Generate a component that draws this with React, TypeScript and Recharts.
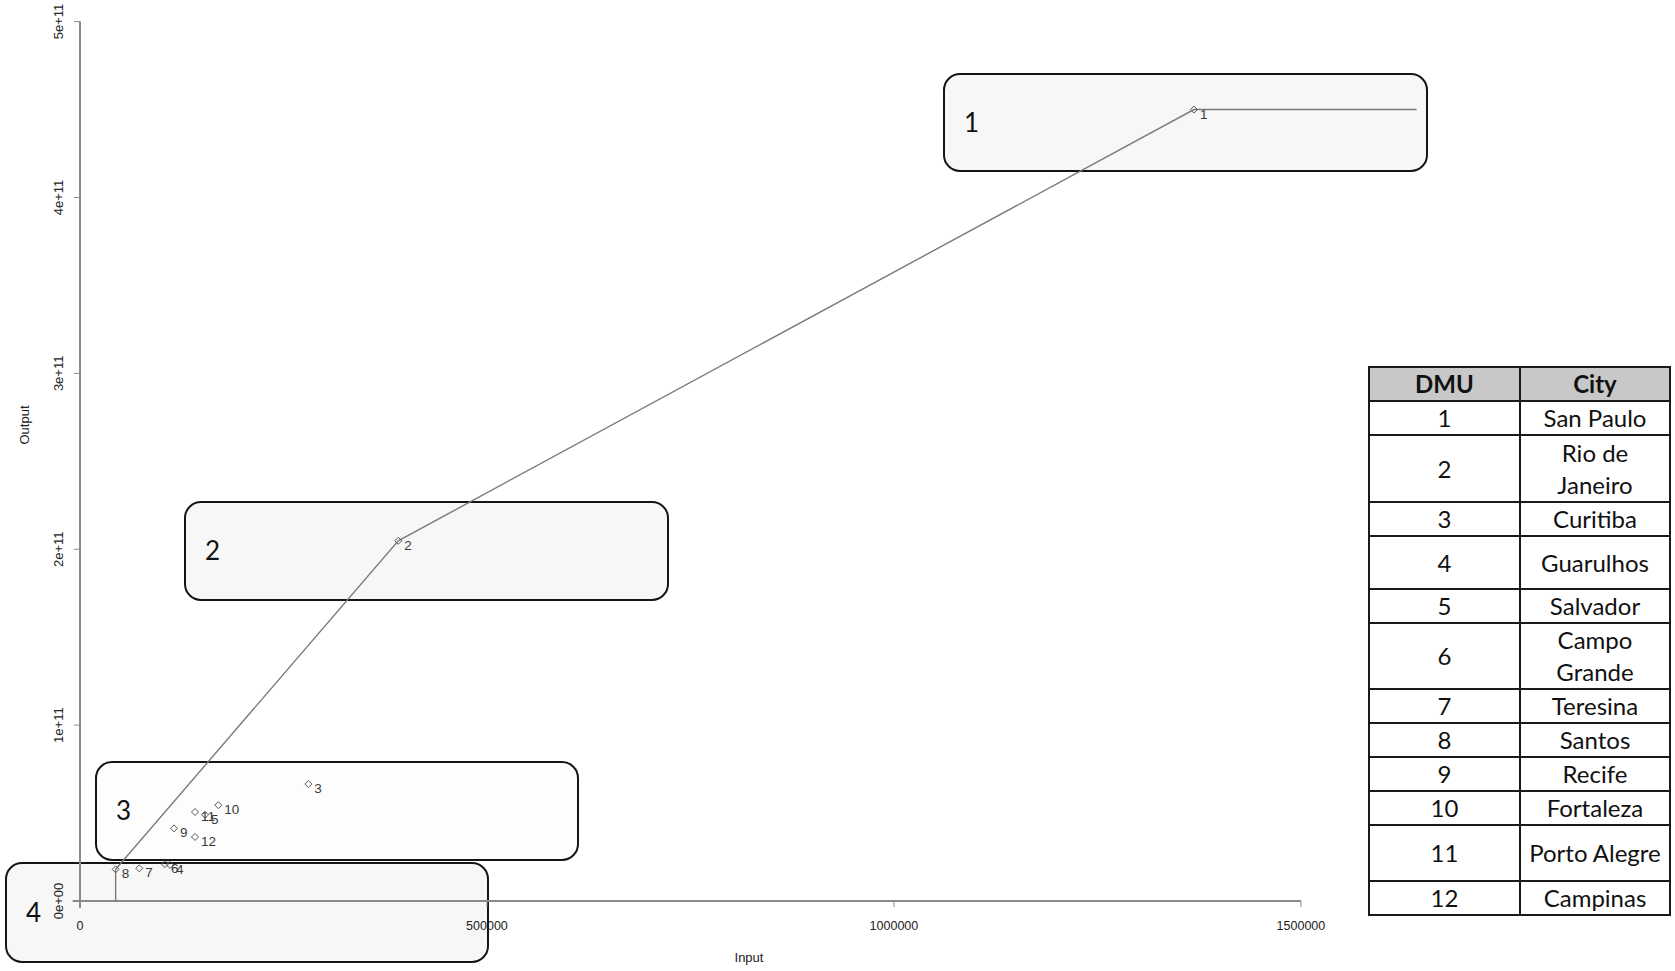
import { ScatterChart, Scatter, XAxis, YAxis, ReferenceLine } from "recharts";

// DMU efficiency data (input vs output)
const DMU_IDS = [1, 2, 3, 4, 5, 6, 7, 8, 9, 10, 11, 12];
const INPUTS = [1368500, 391000, 280500, 110600, 153600, 104400, 72900, 43800, 115500, 169900, 141300, 141300];
const OUTPUTS = [450e9, 204.8e9, 66.5e9, 20.5e9, 49e9, 21e9, 18.6e9, 18e9, 41.3e9, 54.5e9, 50.6e9, 36.4e9];
const CITIES = [
  "San Paulo",
  "Rio de Janeiro",
  "Curitiba",
  "Guarulhos",
  "Salvador",
  "Campo Grande",
  "Teresina",
  "Santos",
  "Recife",
  "Fortaleza",
  "Porto Alegre",
  "Campinas",
];

// efficient frontier (8 -> 2 -> 1, then flat)
const FRONTIER_X = [43800, 43800, 391000, 1368500, 1642000];
const FRONTIER_Y = [0, 18e9, 204.8e9, 450e9, 450e9];

const X_TICKS = [0, 500000, 1000000, 1500000];
const Y_TICKS = [0, 1e11, 2e11, 3e11, 4e11, 5e11];
const GROUP_LABELS = ["1", "2", "3", "4"];

// layout only
const BOXES = [
  { left: 943, top: 73, width: 485, height: 99, fill: "#f7f7f7" },
  { left: 184, top: 501, width: 485, height: 100, fill: "#f7f7f7" },
  { left: 95, top: 761, width: 484, height: 100, fill: "#fdfdfd" },
  { left: 5, top: 862, width: 484, height: 101, fill: "#f7f7f7" },
];
const ROW_HEIGHTS = [34, 67, 34, 53, 34, 66, 34, 34, 34, 33, 56, 33];

const points = DMU_IDS.map((id, i) => ({ id, x: INPUTS[i], y: OUTPUTS[i] }));
const frontier = FRONTIER_X.map((x, i) => ({ x, y: FRONTIER_Y[i] }));

const AXIS_FONT = "'Liberation Sans', Arial, sans-serif";
const TABLE_FONT = "Lato, 'Noto Sans', sans-serif";

function formatY(v: number): string {
  if (v === 0) return "0e+00";
  return `${Math.round(v / 1e11)}e+11`;
}

function XTick({ x, y, payload }: any) {
  return (
    <text x={x} y={y + 21} textAnchor="middle" fontSize={12.5} fill="#222" fontFamily={AXIS_FONT}>
      {payload.value}
    </text>
  );
}

function YTick({ x, y, payload }: any) {
  return (
    <text
      transform={`translate(${x - 9}, ${y}) rotate(-90)`}
      textAnchor="middle"
      fontSize={13}
      fill="#222"
      fontFamily={AXIS_FONT}
    >
      {formatY(payload.value)}
    </text>
  );
}

function DmuMarker({ cx, cy, payload }: any) {
  const r = 3.5;
  return (
    <g>
      <path
        d={`M${cx},${cy - r}L${cx + r},${cy}L${cx},${cy + r}L${cx - r},${cy}Z`}
        fill="none"
        stroke="#555"
        strokeWidth={1}
      />
      <text x={cx + 6} y={cy + 9} fontSize={13.5} fill="#3a3a3a" fontFamily={AXIS_FONT}>
        {payload.id}
      </text>
    </g>
  );
}

const cell: React.CSSProperties = {
  border: "2px solid #1a1a1a",
  textAlign: "center",
  verticalAlign: "middle",
  padding: 0,
  lineHeight: "32px",
};

export default function App() {
  return (
    <div
      style={{
        position: "absolute",
        left: 0,
        top: 0,
        width: 1675,
        height: 971,
        background: "#fff",
        overflow: "hidden",
      }}
    >
      {BOXES.map((b, i) => (
        <div
          key={i}
          style={{
            position: "absolute",
            left: b.left,
            top: b.top,
            width: b.width,
            height: b.height,
            boxSizing: "border-box",
            border: "2.5px solid #151515",
            borderRadius: 17,
            background: b.fill,
          }}
        >
          <span
            style={{
              position: "absolute",
              left: 19,
              top: "50%",
              transform: "translateY(-52%)",
              fontFamily: TABLE_FONT,
              fontSize: 26,
              color: "#111",
            }}
          >
            {GROUP_LABELS[i]}
          </span>
        </div>
      ))}

      <div style={{ position: "absolute", left: 0, top: 0 }}>
        <ScatterChart
          width={1675}
          height={971}
          margin={{ top: 4, right: 195, bottom: 10, left: 5 }}
        >
          <XAxis
            type="number"
            dataKey="x"
            domain={[0, 1720000]}
            allowDataOverflow
            ticks={X_TICKS}
            interval={0}
            axisLine={false}
            tickLine={{ stroke: "#888" }}
            tickSize={6}
            tickMargin={2}
            tick={<XTick />}
            height={60}
            label={{
              content: () => (
                <text x={749} y={962} textAnchor="middle" fontSize={13} fill="#222" fontFamily={AXIS_FONT}>
                  Input
                </text>
              ),
            }}
          />
          <YAxis
            type="number"
            dataKey="y"
            domain={[0, 5.1e11]}
            allowDataOverflow
            ticks={Y_TICKS}
            interval={0}
            axisLine={false}
            tickLine={{ stroke: "#888" }}
            tickSize={6}
            tickMargin={2}
            tick={<YTick />}
            width={75}
            label={{
              content: () => (
                <text
                  transform="translate(29, 425) rotate(-90)"
                  textAnchor="middle"
                  fontSize={13}
                  fill="#222"
                  fontFamily={AXIS_FONT}
                >
                  Output
                </text>
              ),
            }}
          />
          <ReferenceLine
            segment={[{ x: -9000, y: 0 }, { x: 1500000, y: 0 }]}
            stroke="#8a8a8a"
            strokeWidth={2}
            ifOverflow="visible"
          />
          <ReferenceLine
            segment={[{ x: 0, y: -0.04e11 }, { x: 0, y: 5e11 }]}
            stroke="#8a8a8a"
            strokeWidth={2}
            ifOverflow="visible"
          />
          <Scatter
            data={frontier}
            line={{ stroke: "#7a7a7a", strokeWidth: 1.4 }}
            shape={() => <g />}
            isAnimationActive={false}
          />
          <Scatter data={points} shape={<DmuMarker />} isAnimationActive={false} />
        </ScatterChart>
      </div>

      <table
        style={{
          position: "absolute",
          left: 1368,
          top: 366,
          width: 301,
          borderCollapse: "collapse",
          fontFamily: TABLE_FONT,
          fontSize: 24,
          color: "#111",
          tableLayout: "fixed",
        }}
      >
        <colgroup>
          <col style={{ width: 151 }} />
          <col style={{ width: 150 }} />
        </colgroup>
        <thead>
          <tr style={{ height: 34, background: "#c8c8c8" }}>
            <th style={{ ...cell, fontWeight: 700 }}>DMU</th>
            <th style={{ ...cell, fontWeight: 700 }}>City</th>
          </tr>
        </thead>
        <tbody>
          {DMU_IDS.map((id, i) => (
            <tr key={id} style={{ height: ROW_HEIGHTS[i] }}>
              <td style={cell}>{id}</td>
              <td style={{ ...cell, whiteSpace: "nowrap" }}>
                {CITIES[i] === "Rio de Janeiro" ? (
                  <>
                    Rio de
                    <br />
                    Janeiro
                  </>
                ) : CITIES[i] === "Campo Grande" ? (
                  <>
                    Campo
                    <br />
                    Grande
                  </>
                ) : (
                  CITIES[i]
                )}
              </td>
            </tr>
          ))}
        </tbody>
      </table>
    </div>
  );
}
